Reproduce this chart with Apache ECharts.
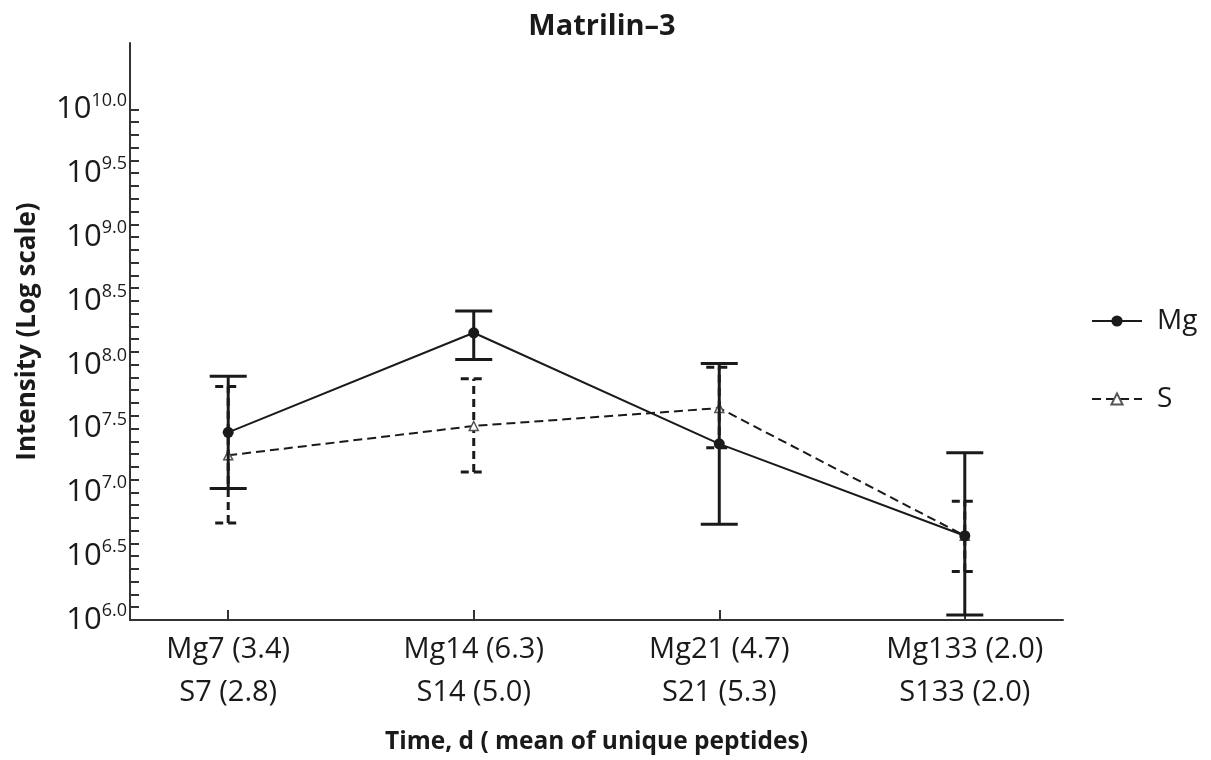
<!DOCTYPE html>
<html>
<head>
<meta charset="utf-8">
<title>Matrilin-3</title>
<script src="https://cdn.jsdelivr.net/npm/echarts@6/dist/echarts.min.js"></script>
<style>
  html, body { margin: 0; padding: 0; background: #fff; }
  #chart { width: 1211px; height: 760px; }
</style>
</head>
<body>
<div id="chart"></div>
<script>
// category positions on the x value axis and their two-line labels
var catPos = [1, 2, 3, 4];
var mgLabels = ['Mg7 (3.4)', 'Mg14 (6.3)', 'Mg21 (4.7)', 'Mg133 (2.0)'];
var sLabels = ['S7 (2.8)', 'S14 (5.0)', 'S21 (5.3)', 'S133 (2.0)'];

// log10 intensity
var mgMean = [7.47, 8.25, 7.38, 6.66];
var mgLow = [7.03, 8.04, 6.75, 6.04];
var mgHigh = [7.91, 8.42, 8.01, 7.31];

var sMean = [7.29, 7.52, 7.66, 6.66];
var sLow = [6.76, 7.16, 7.35, 6.38];
var sHigh = [7.83, 7.89, 7.98, 6.93];

// y tick labels (exponents)
var yTickLabels = [6.0, 6.5, 7.0, 7.5, 8.0, 8.5, 9.0, 9.5, 10.0];

var FONT = '"Open Sans", "DejaVu Sans", sans-serif';
var INK = '#1a1a1a';

// minor ticks every 0.1 from 6.0 to 10.0
var yTicks = [];
for (var i = 60; i <= 100; i++) {
  yTicks.push(i / 10);
}

function pairs(xs, ys) {
  return xs.map(function (x, k) { return [x, ys[k]]; });
}
function triples(xs, lo, hi) {
  return xs.map(function (x, k) { return [x, lo[k], hi[k]]; });
}

function errorBars(capW, dash) {
  return function (params, api) {
    var x = api.value(0);
    var lo = api.coord([x, api.value(1)]);
    var hi = api.coord([x, api.value(2)]);
    var st = { stroke: INK, lineWidth: 3, lineDash: dash };
    return {
      type: 'group',
      children: [
        { type: 'line', shape: { x1: lo[0], y1: lo[1], x2: hi[0], y2: hi[1] }, style: st },
        { type: 'line', shape: { x1: hi[0] - capW / 2, y1: hi[1], x2: hi[0] + capW / 2, y2: hi[1] }, style: st },
        { type: 'line', shape: { x1: lo[0] - capW / 2, y1: lo[1], x2: lo[0] + capW / 2, y2: lo[1] }, style: st }
      ]
    };
  };
}

var chart = echarts.init(document.getElementById('chart'));

var option = {
  backgroundColor: '#fff',
  animation: false,
  textStyle: { fontFamily: FONT },
  title: {
    text: 'Matrilin–3',
    left: 597,
    top: 7,
    textAlign: 'center',
    textStyle: { fontFamily: FONT, fontSize: 29, fontWeight: 'bold', color: INK }
  },
  legend: {
    data: ['Mg', 'S'],
    orient: 'vertical',
    left: 1086,
    top: 300,
    itemWidth: 50,
    itemHeight: 14,
    itemGap: 46,
    textStyle: { fontFamily: FONT, fontSize: 28, color: INK, lineHeight: 32, padding: [0, 0, 0, 10] }
  },
  grid: { left: 130, right: 148, top: 43, bottom: 139 },
  xAxis: {
    type: 'value',
    min: 0.6,
    max: 4.4,
    name: 'Time, d ( mean of unique peptides)',
    nameLocation: 'middle',
    nameGap: 110,
    nameTextStyle: { fontFamily: FONT, fontSize: 24.5, fontWeight: 'bold', color: INK, verticalAlign: 'top' },
    splitLine: { show: false },
    axisLine: { lineStyle: { color: '#333', width: 2 } },
    axisTick: { inside: true, length: 10, customValues: catPos, lineStyle: { color: '#333', width: 2 } },
    axisLabel: {
      customValues: catPos,
      margin: 8,
      fontFamily: FONT,
      fontSize: 29,
      lineHeight: 43,
      color: INK,
      formatter: function (v) {
        var k = Math.round(v) - 1;
        return mgLabels[k] + '\n' + sLabels[k];
      }
    }
  },
  yAxis: {
    type: 'value',
    min: 6,
    max: 10.52,
    name: 'Intensity (Log scale)',
    nameLocation: 'middle',
    nameGap: 89,
    nameTextStyle: { fontFamily: FONT, fontSize: 26, fontWeight: 'bold', color: INK },
    splitLine: { show: false },
    axisLine: { show: true, lineStyle: { color: '#333', width: 2 } },
    axisTick: { inside: true, length: 9, customValues: yTicks, lineStyle: { color: '#333', width: 2 } },
    axisLabel: {
      customValues: yTickLabels,
      margin: 3,
      color: INK,
      formatter: function (v) {
        return '{b|10}{s|' + v.toFixed(1) + '}';
      },
      rich: {
        b: { fontFamily: FONT, fontSize: 31, lineHeight: 36, color: INK },
        s: { fontFamily: FONT, fontSize: 18, lineHeight: 20, verticalAlign: 'top', color: INK }
      }
    }
  },
  series: [
    {
      name: 'S err',
      type: 'custom',
      renderItem: errorBars(26, [8, 5]),
      data: triples(catPos, sLow, sHigh),
      z: 2
    },
    {
      name: 'S',
      type: 'line',
      data: pairs(catPos, sMean),
      symbol: 'triangle',
      symbolSize: 9,
      itemStyle: { color: '#fff', borderColor: '#555', borderWidth: 1.5 },
      lineStyle: { color: INK, width: 2, type: [9, 5] },
      z: 3
    },
    {
      name: 'Mg err',
      type: 'custom',
      renderItem: errorBars(37, null),
      data: triples(catPos, mgLow, mgHigh),
      z: 4
    },
    {
      name: 'Mg',
      type: 'line',
      data: pairs(catPos, mgMean),
      symbol: 'circle',
      symbolSize: 11,
      itemStyle: { color: INK },
      lineStyle: { color: INK, width: 2 },
      z: 5
    }
  ]
};

chart.setOption(option);
</script>
</body>
</html>
